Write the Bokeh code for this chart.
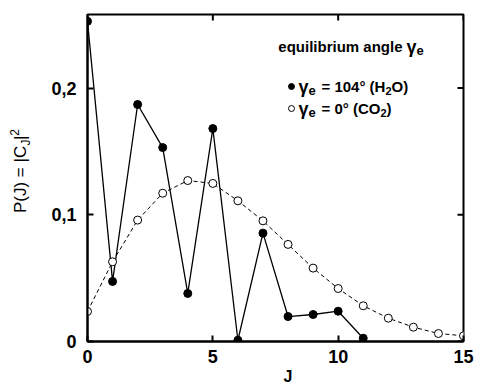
import math
from bokeh.plotting import figure
from bokeh.models import Range1d, LinearAxis, FixedTicker, Label, Title
from bokeh.layouts import row
from bokeh.embed import file_html
from bokeh.resources import INLINE

# ---- data ----
J_h2o = [0, 1, 2, 3, 4, 5, 6, 7, 8, 9, 10, 11]
P_h2o = [0.2526, 0.0474, 0.187, 0.153, 0.0379, 0.168, 0.001, 0.0855, 0.0197, 0.0213, 0.0239, 0.0026]
J_co2 = [0, 1, 2, 3, 4, 5, 6, 7, 8, 9, 10, 11, 12, 13, 14, 15]
P_co2 = [0.0237, 0.0629, 0.0958, 0.117, 0.127, 0.1247, 0.111, 0.0952, 0.0766, 0.0579,
         0.0418, 0.0282, 0.0184, 0.0113, 0.0063, 0.0045]
x_ticks = [0, 5, 10, 15]
y_ticks = [0, 0.1, 0.2]
y_tick_labels = ["0", "0,1", "0,2"]
x_title = "J"
legend_title = "equilibrium angle"
legend_h2o = ["= 104° (H", "2", "O)"]
legend_co2 = ["= 0° (CO", "2", ")"]
y_title = ["P(J) = |C", "J", "|", "2"]

FONT = "Liberation Sans"
X0, X1, Y0, Y1 = 0, 15, 0, 0.258

# approximate Arial / Liberation Sans advance widths (per em)
W_BOLD = {" ": .278, "(": .333, ")": .333, "=": .584, "°": .4, "C": .722, "H": .722, "O": .778,
          "J": .556, "e": .556, "γ": .556, "|": .28, "a": .556, "b": .611, "g": .611, "i": .278,
          "l": .278, "m": .889, "n": .611, "q": .611, "r": .389, "u": .611}
W_REG = {" ": .278, "(": .333, ")": .333, "=": .584, "C": .722, "P": .667, "J": .5, "|": .26, "2": .556}
for d in "0123456789":
    W_BOLD.setdefault(d, .556)


def tw(text, size, table):
    return sum(table.get(c, .556) for c in text) * size


# ---------------- main plot ----------------
LEFT_W = 40
p = figure(width=442, height=386, output_backend="svg", toolbar_location=None,
           x_range=Range1d(X0, X1), y_range=Range1d(Y0, Y1),
           x_axis_location=None, y_axis_location=None)
p.min_border_left = 47
p.min_border_right = 19
p.min_border_top = 14
p.min_border_bottom = 45
p.grid.visible = False
p.outline_line_color = "black"
p.outline_line_width = 2
p.background_fill_color = "white"
p.border_fill_color = "white"


def make_axis(ticks, standoff, overrides=None):
    ax = LinearAxis(ticker=FixedTicker(ticks=ticks))
    ax.axis_line_color = "black"
    ax.axis_line_width = 2
    ax.major_tick_in = 6
    ax.major_tick_out = 0
    ax.major_tick_line_width = 2
    ax.minor_tick_line_color = None
    ax.major_label_text_font = FONT
    ax.major_label_text_font_style = "bold"
    ax.major_label_text_font_size = "18px"
    ax.major_label_text_color = "black"
    ax.major_label_standoff = standoff
    if overrides:
        ax.major_label_overrides = overrides
    return ax


p.add_layout(make_axis(x_ticks, 8), "below")
p.add_layout(make_axis(y_ticks, 11, {t: s for t, s in zip(y_ticks, y_tick_labels)}), "left")
p.add_layout(Title(text=x_title, align="left", offset=196, standoff=0, text_font=FONT,
                   text_font_style="bold", text_font_size="16px", text_color="black"), "below")

FW, FH = 376.0, 327.0  # frame size in px
PX = FW / (X1 - X0)
PY = FH / (Y1 - Y0)

# inward ticks on the top and right frame edges
p.segment(x0=x_ticks, y0=[Y1] * len(x_ticks), x1=x_ticks, y1=[Y1 - 6 / PY] * len(x_ticks),
          line_color="black", line_width=2)
p.segment(x0=[X1] * len(y_ticks), y0=y_ticks, x1=[X1 - 6 / PX] * len(y_ticks), y1=y_ticks,
          line_color="black", line_width=2)

# curves
p.line(J_co2, P_co2, line_color="black", line_width=1, line_dash="4 3")
p.line(J_h2o, P_h2o, line_color="black", line_width=1.3)
p.scatter(J_co2, P_co2, size=8, marker="circle", fill_color="white", line_color="black", line_width=1)
p.scatter(J_h2o, P_h2o, size=8, marker="circle", fill_color="black", line_color="black")


# page pixel -> data
def dx(px):
    return X0 + (px - 87) / PX


def dy(py):
    return Y0 + (341 - py) / PY


def lab(fig, text, x, y, size, style="bold", align="left", angle=0):
    fig.add_layout(Label(x=x, y=y, text=text, text_font=FONT, text_font_style=style,
                         text_font_size=f"{size}px", text_align=align, text_baseline="middle",
                         text_color="black", angle=angle))


# legend title: anchor the gamma symbol, the text ends just before it
ty = 46
gx = 406
lab(p, legend_title, dx(gx - 4), dy(ty), 15, align="right")
lab(p, "γ", dx(gx), dy(ty), 18)
lab(p, "e", dx(gx + 10), dy(ty + 4), 13)


def legend_row(py, filled, parts):
    p.scatter([dx(291)], [dy(py)], size=6, marker="circle",
              fill_color="black" if filled else "white", line_color="black")
    lab(p, "γ", dx(298), dy(py), 18)
    lab(p, "e", dx(308), dy(py + 4), 13)
    xx = 321
    lab(p, parts[0], dx(xx), dy(py), 15)
    xx += tw(parts[0], 15, W_BOLD)
    lab(p, parts[1], dx(xx), dy(py + 4), 11)
    xx += tw(parts[1], 11, W_BOLD)
    lab(p, parts[2], dx(xx), dy(py), 15)


legend_row(86, True, legend_h2o)
legend_row(108, False, legend_co2)

# ---------------- y-axis title strip (left) ----------------
fy = figure(width=LEFT_W, height=386, output_backend="svg", toolbar_location=None,
            x_range=Range1d(0, LEFT_W), y_range=Range1d(0, 386),
            x_axis_location=None, y_axis_location=None,
            min_border_left=0, min_border_right=0, min_border_top=0, min_border_bottom=0)
fy.grid.visible = False
fy.outline_line_color = None
fy.background_fill_color = "white"
fy.border_fill_color = "white"
A = math.pi / 2
cx = 20
yy = 155.0  # junction between "|C" and the subscript J (page px)
lab(fy, y_title[0], cx, 386 - yy, 17, style="normal", align="right", angle=A)
yy -= 0.5
lab(fy, y_title[1], cx + 5, 386 - yy, 12, style="normal", angle=A)
yy -= tw(y_title[1], 12, W_REG) + 0.5
lab(fy, y_title[2], cx, 386 - yy, 17, style="normal", angle=A)
yy -= tw(y_title[2], 17, W_REG) + 0.5
lab(fy, y_title[3], cx - 6, 386 - yy, 12, style="normal", angle=A)

layout = row(fy, p, spacing=0)
open("out.html", "w").write(file_html(layout, INLINE))
